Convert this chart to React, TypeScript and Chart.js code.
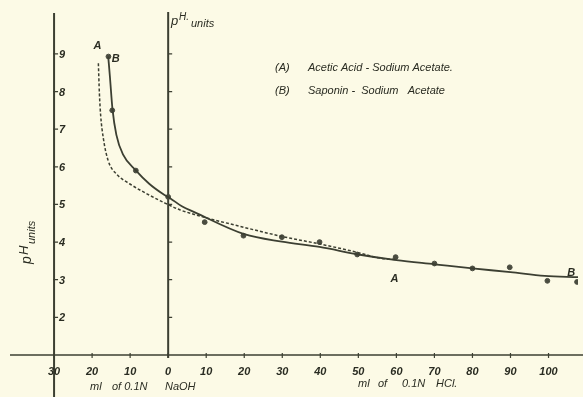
import React, { useEffect, useRef } from "react";
import { Chart, registerables } from "chart.js";
Chart.register(...registerables);

// Curve A: Acetic Acid - Sodium Acetate (dashed). x < 0 means ml of 0.1N NaOH, x > 0 ml of 0.1N HCl
const curveA_ml = [-18.35, -18.09, -17.75, -17.05, -15.76, -13.62, -10.16, -4.99, -0.7, 3, 7, 20, 29.9, 39.8, 50, 55.3, 60];
const curveA_pH = [8.75, 7.97, 7.37, 6.76, 6.16, 5.81, 5.55, 5.25, 5.03, 4.86, 4.73, 4.39, 4.15, 3.95, 3.72, 3.58, 3.53];

// Curve B: Saponin - Sodium Acetate (solid)
const curveB_ml = [-15.76, -15.32, -14.65, -13.62, -11.89, -8.45, -4.99, -1.55, 0.6, 3.6, 7, 20, 29.9, 39.8, 50, 60, 70, 80, 90, 99, 107.75];
const curveB_pH = [8.93, 8.4, 7.54, 6.85, 6.33, 5.9, 5.55, 5.29, 5.16, 4.95, 4.79, 4.21, 4.01, 3.87, 3.67, 3.52, 3.41, 3.3, 3.2, 3.1, 3.07];

// Measured points
const points_ml = [-15.7, -14.7, -8.5, 0, 9.6, 19.8, 29.9, 39.8, 49.7, 59.8, 70, 80, 89.8, 99.7, 107.5];
const points_pH = [8.93, 7.5, 5.9, 5.2, 4.53, 4.17, 4.13, 4.0, 3.67, 3.6, 3.43, 3.3, 3.33, 2.97, 2.94];

const yTickValues = [2, 3, 4, 5, 6, 7, 8, 9];
const naohTickValues = [30, 20, 10, 0];
const hclTickValues = [10, 20, 30, 40, 50, 60, 70, 80, 90, 100];
const legendKeys = ["(A)", "(B)"];
const legendNames = ["Acetic Acid - Sodium Acetate.", "Saponin -  Sodium   Acetate"];

const INK = "#2a2c22";
const LINE = "#3c3f32";
const FONT = '"Liberation Sans", "DejaVu Sans", sans-serif';

const toXY = (xs: number[], ys: number[]) => xs.map((x, i) => ({ x, y: ys[i] }));

export default function App() {
  const ref = useRef<HTMLCanvasElement>(null);
  useEffect(() => {
    if (!ref.current) return;
    const deco = {
      id: "deco",
      beforeDraw(chart: any) {
        const ctx = chart.ctx;
        ctx.save();
        ctx.fillStyle = "#fcfae6";
        ctx.fillRect(0, 0, chart.width, chart.height);
        ctx.restore();
      },
      beforeDatasetsDraw(chart: any) {
        const ctx = chart.ctx;
        const xs = chart.scales.x;
        const ys = chart.scales.y;
        const X = (v: number) => xs.getPixelForValue(v);
        const Y = (v: number) => ys.getPixelForValue(v);
        ctx.save();
        ctx.strokeStyle = LINE;
        ctx.fillStyle = INK;
        // x axis (at pH 1)
        ctx.lineWidth = 1.6;
        ctx.beginPath();
        ctx.moveTo(10, Y(1));
        ctx.lineTo(chart.width, Y(1));
        ctx.stroke();
        // left axis at -30
        ctx.lineWidth = 2;
        ctx.beginPath();
        ctx.moveTo(X(-30), 13);
        ctx.lineTo(X(-30), chart.height);
        ctx.stroke();
        // middle axis at 0
        ctx.beginPath();
        ctx.moveTo(X(0), 12);
        ctx.lineTo(X(0), Y(1) + 3);
        ctx.stroke();
        // y ticks
        ctx.lineWidth = 1.2;
        ctx.font = `italic bold 11px ${FONT}`;
        ctx.textBaseline = "middle";
        ctx.textAlign = "left";
        for (const v of yTickValues) {
          const py = Y(v);
          ctx.beginPath();
          ctx.moveTo(X(-30) - 1, py);
          ctx.lineTo(X(-30) + 4, py);
          ctx.moveTo(X(0), py);
          ctx.lineTo(X(0) + 4, py);
          ctx.stroke();
          ctx.fillText(String(v), X(-30) + 5, py + 1);
        }
        // x ticks
        ctx.textAlign = "center";
        ctx.textBaseline = "middle";
        const drawXTick = (val: number, label: string) => {
          const px = X(val);
          ctx.beginPath();
          ctx.moveTo(px, Y(1) - 2);
          ctx.lineTo(px, Y(1) + 3);
          ctx.stroke();
          ctx.fillText(label, px, 372);
        };
        for (const v of naohTickValues) drawXTick(-v, String(v));
        for (const v of hclTickValues) drawXTick(v, String(v));
        // axis titles
        ctx.font = `italic 11px ${FONT}`;
        ctx.textAlign = "left";
        ctx.fillText("ml", 90, 387);
        ctx.fillText("of 0.1N", 112, 387);
        ctx.fillText("NaOH", 165, 387);
        ctx.fillText("ml", 358, 384);
        ctx.fillText("of", 378, 384);
        ctx.fillText("0.1N", 402, 384);
        ctx.fillText("HCl.", 436, 384);
        // top pH units
        ctx.textBaseline = "alphabetic";
        ctx.font = `italic 13px ${FONT}`;
        ctx.fillText("p", 171, 25);
        ctx.font = `italic 10px ${FONT}`;
        ctx.fillText("H.", 179, 20);
        ctx.font = `italic 11px ${FONT}`;
        ctx.fillText("units", 191, 27);
        // left rotated pH units
        ctx.save();
        ctx.translate(31, 264);
        ctx.rotate(-Math.PI / 2);
        ctx.font = `italic 14px ${FONT}`;
        ctx.fillText("p", 0, 0);
        ctx.font = `italic 13px ${FONT}`;
        ctx.fillText("H", 9, -3);
        ctx.font = `italic 11px ${FONT}`;
        ctx.fillText("units", 20, 4);
        ctx.restore();
        // legend
        ctx.textBaseline = "middle";
        ctx.font = `italic 11px ${FONT}`;
        for (let i = 0; i < legendKeys.length; i++) {
          const py = 68 + i * 23;
          ctx.fillText(legendKeys[i], 275, py);
          ctx.fillText(legendNames[i], 308, py);
        }
        // curve labels
        ctx.font = `italic bold 11px ${FONT}`;
        ctx.textAlign = "center";
        ctx.fillText("A", X(-18.6), 46);
        ctx.fillText("B", X(-13.8), 59);
        ctx.fillText("A", X(59.5), 279);
        ctx.fillText("B", X(106), 273);
        ctx.restore();
      },
    };
    const chart = new Chart(ref.current, {
      type: "scatter",
      data: {
        datasets: [
          {
            label: "A",
            data: toXY(curveA_ml, curveA_pH),
            showLine: true,
            borderColor: LINE,
            borderWidth: 1.5,
            borderDash: [3, 2],
            pointRadius: 0,
            cubicInterpolationMode: "monotone",
          },
          {
            label: "B",
            data: toXY(curveB_ml, curveB_pH),
            showLine: true,
            borderColor: LINE,
            borderWidth: 1.8,
            pointRadius: 0,
            cubicInterpolationMode: "monotone",
          },
          {
            label: "points",
            data: toXY(points_ml, points_pH),
            showLine: false,
            pointRadius: 2.4,
            pointBackgroundColor: "#4a4c40",
            pointBorderColor: "#4a4c40",
          },
        ],
      },
      options: {
        animation: false,
        responsive: false,
        devicePixelRatio: 1,
        layout: { padding: 0 },
        plugins: { legend: { display: false }, tooltip: { enabled: false } },
        scales: {
          x: { type: "linear", min: -42.9, max: 107.75, display: false },
          y: { type: "linear", min: 0.016, max: 10.3, display: false },
        },
      },
      plugins: [deco],
    } as any);
    return () => chart.destroy();
  }, []);
  return (
    <div style={{ position: "fixed", left: 0, top: 0, width: 583, height: 397 }}>
      <canvas ref={ref} width={583} height={397} />
    </div>
  );
}
